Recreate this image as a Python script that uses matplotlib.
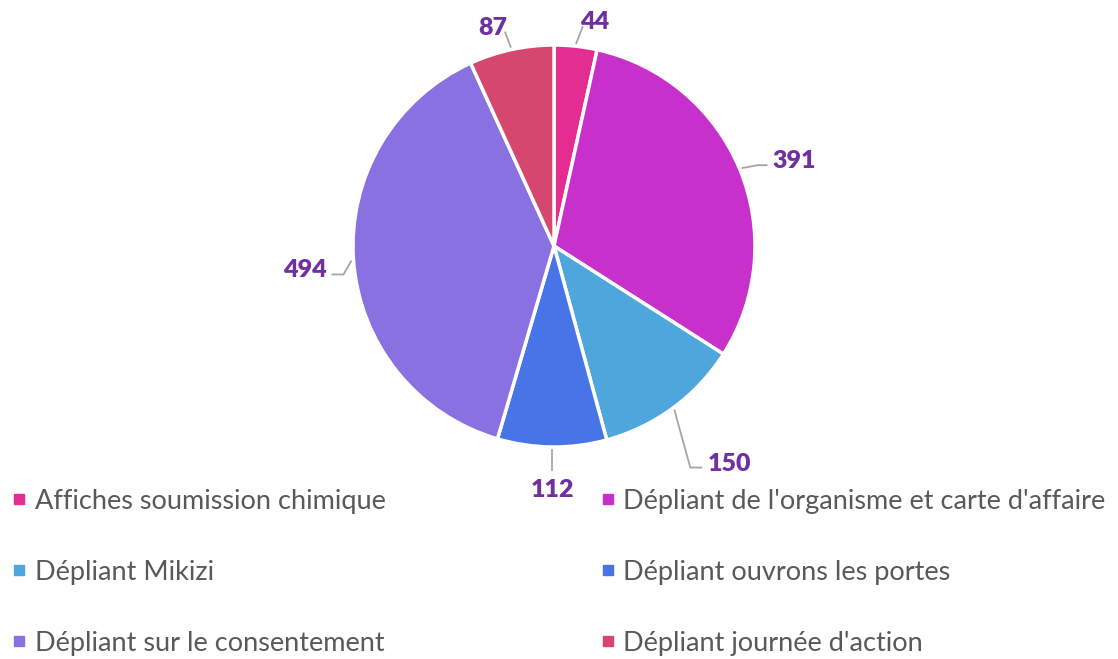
import matplotlib.pyplot as plt
import numpy as np
from matplotlib.lines import Line2D

# Data
categories = [
    "Affiches soumission chimique",
    "Dépliant de l'organisme et carte d'affaire",
    "Dépliant Mikizi",
    "Dépliant ouvrons les portes",
    "Dépliant sur le consentement",
    "Dépliant journée d'action",
]
values = [44, 391, 150, 112, 494, 87]
colors = ["#E32D91", "#C830CC", "#4EA6DC", "#4775E7", "#8971E1", "#D5476E"]

# label placement: (elbow dx, elbow dy, end dx, end dy) in pixels from the wedge edge
leader = [
    (7, 18, 7, 18),
    (16, 3, 26, 3),
    (16, -58, 28, -58),
    (0, -22, 0, -22),
    (-8, -14, -20, -14),
    (-6, 16, -6, 16),
]
label_color = "#7030A0"
W, H = 1118, 659

fig = plt.figure(figsize=(W / 100, H / 100), dpi=100)
ax = fig.add_axes([0, 0, 1, 1])

cx, cy, r = 554, H - 246, 201
wedges, _ = ax.pie(
    values,
    colors=colors,
    startangle=90,
    counterclock=False,
    center=(cx, cy),
    radius=r,
    wedgeprops={"edgecolor": "white", "linewidth": 2.5},
    frame=True,
)
ax.set_xlim(0, W)
ax.set_ylim(0, H)
ax.axis("off")

# Data labels with leader lines
for w, v, (ex, ey, tx, ty) in zip(wedges, values, leader):
    mid = np.deg2rad((w.theta1 + w.theta2) / 2)
    x0 = cx + (r + 2) * np.cos(mid)
    y0 = cy + (r + 2) * np.sin(mid)
    ax.plot([x0, x0 + ex, x0 + tx], [y0, y0 + ey, y0 + ty],
            color="#A6A6A6", lw=1.3, solid_capstyle="butt")
    if tx != ex:
        # horizontal tail -> label beside it
        ha = "left" if tx > 0 else "right"
        px = x0 + tx + (5 if tx > 0 else -5)
        ax.text(px, y0 + ty + 4, str(v), ha=ha, va="center", fontsize=18,
                fontweight="heavy", color=label_color, family="Lato")
    else:
        px = x0 + tx + (-12 if tx < 0 else (12 if tx > 0 else 0))
        if ty > 0:
            ax.text(px, y0 + ty - 7, str(v), ha="center", va="bottom", fontsize=18,
                    fontweight="heavy", color=label_color, family="Lato")
        else:
            ax.text(px, y0 + ty - 8, str(v), ha="center", va="top", fontsize=18,
                    fontweight="heavy", color=label_color, family="Lato")

# Legend (row-major order like the original)
handles = [Line2D([], [], marker="s", linestyle="none", markersize=7,
                  markerfacecolor=c, markeredgecolor=c) for c in colors]
order = [0, 2, 4, 1, 3, 5]
ax.legend([handles[i] for i in order], [categories[i] for i in order],
          ncol=2, loc="upper left", bbox_to_anchor=(0, 1 - 478 / H),
          frameon=False, prop={"family": "Lato", "size": 19.5},
          labelcolor="#595959", labelspacing=1.7, handlelength=0.6,
          handletextpad=0.28, columnspacing=7.9, borderaxespad=0)

fig.savefig("out.png", dpi=100)
